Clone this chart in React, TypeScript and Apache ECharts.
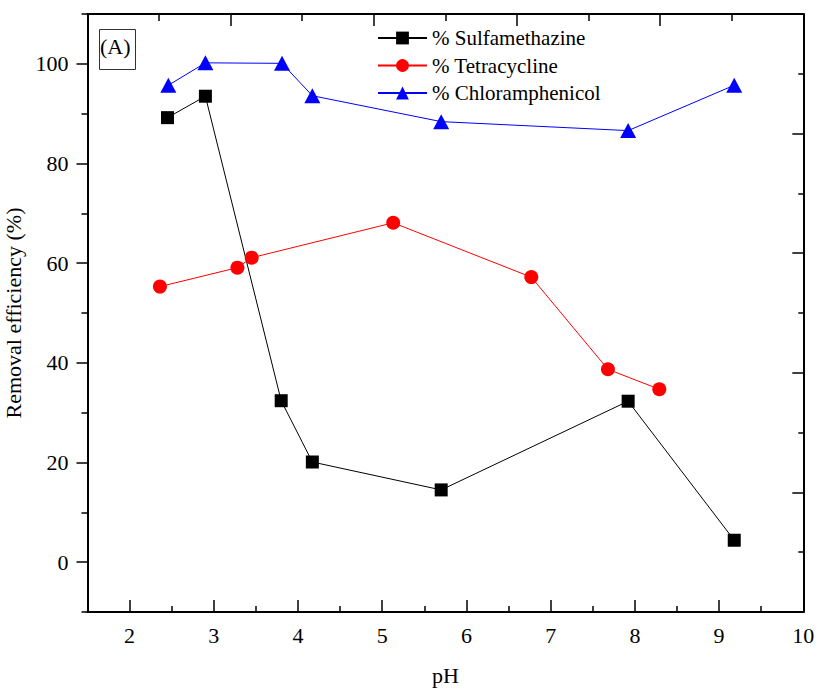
import React, { useEffect, useRef } from "react";
import * as echarts from "echarts";

const phSulfa = [2.45, 2.9, 3.8, 4.17, 5.7, 7.92, 9.18];
const sulfamethazine = [89.2, 93.5, 32.4, 20.1, 14.5, 32.3, 4.4];

const phTetra = [2.36, 3.28, 3.45, 5.13, 6.77, 7.68, 8.29];
const tetracycline = [55.3, 59.1, 61.1, 68.1, 57.2, 38.7, 34.7];

const phChloro = [2.46, 2.9, 3.81, 4.17, 5.7, 7.92, 9.18];
const chloramphenicol = [95.7, 100.2, 100.1, 93.6, 88.4, 86.6, 95.7];

const xMajorTicks = [2, 3, 4, 5, 6, 7, 8, 9, 10];
const xMinorTicks = [2.5, 3.5, 4.5, 5.5, 6.5, 7.5, 8.5, 9.5];
const yMajorTicks = [0, 20, 40, 60, 80, 100];
const yMinorTicks = [-10, 10, 30, 50, 70, 90, 110];

const FONT = "Liberation Serif";

const zip = (xs: number[], ys: number[]) => xs.map((x, i) => [x, ys[i]]);

export default function App() {
  const ref = useRef<HTMLDivElement>(null);
  useEffect(() => {
    if (!ref.current) return;
    const chart = echarts.init(ref.current, null, { renderer: "svg" });
    const axisLine = { show: true, onZero: false, lineStyle: { color: "#000", width: 2 } };
    const noLine = { show: false, onZero: false };
    chart.setOption({
      animation: false,
      backgroundColor: "#fff",
      textStyle: { fontFamily: FONT },
      grid: {
        left: 87.5,
        right: 14.7,
        top: 14,
        bottom: 76,
        containLabel: false,
        outerBoundsMode: "none",
      },
      legend: {
        orient: "vertical",
        left: 377,
        top: 27,
        padding: 0,
        itemWidth: 49,
        itemHeight: 16,
        itemGap: 5.5,
        data: ["% Sulfamethazine", "% Tetracycline", "% Chloramphenicol"],
        textStyle: { fontFamily: FONT, fontSize: 21, color: "#000", lineHeight: 22 },
      },
      xAxis: [
        {
          type: "value",
          position: "bottom",
          min: 1.5,
          max: 10,
          interval: 0.5,
          axisLine,
          splitLine: { show: false },
          axisTick: { show: true, inside: true, length: 12, customValues: xMajorTicks, lineStyle: { color: "#000", width: 1.5 } },
          axisLabel: { customValues: xMajorTicks, fontSize: 22, fontFamily: FONT, color: "#000", margin: 12 },
          name: "pH",
          nameLocation: "middle",
          nameGap: 52,
          nameTextStyle: { fontSize: 22, fontFamily: FONT, color: "#000" },
        },
        {
          type: "value",
          position: "bottom",
          min: 1.5,
          max: 10,
          interval: 0.5,
          axisLine: noLine,
          splitLine: { show: false },
          axisTick: { show: true, inside: true, length: 6, customValues: xMinorTicks, lineStyle: { color: "#000", width: 1.5 } },
          axisLabel: { show: false },
        },
        {
          type: "value",
          position: "top",
          min: 0,
          max: 10,
          interval: 2,
          axisLine,
          splitLine: { show: false },
          axisTick: { show: true, inside: true, length: 12, lineStyle: { color: "#000", width: 1.5 } },
          minorTick: { show: true, splitNumber: 2, length: 7, lineStyle: { color: "#000", width: 1.5 } },
          minorSplitLine: { show: false },
          axisLabel: { show: false },
        },
      ],
      yAxis: [
        {
          type: "value",
          position: "left",
          min: -10,
          max: 110,
          interval: 10,
          axisLine,
          splitLine: { show: false },
          axisTick: { show: true, inside: false, length: 11, customValues: yMajorTicks, lineStyle: { color: "#000", width: 1.5 } },
          axisLabel: { customValues: yMajorTicks, fontSize: 22, fontFamily: FONT, color: "#000", margin: 19 },
          name: "Removal efficiency (%)",
          nameLocation: "middle",
          nameGap: 54,
          nameTextStyle: { fontSize: 22, fontFamily: FONT, color: "#000" },
        },
        {
          type: "value",
          position: "left",
          min: -10,
          max: 110,
          interval: 10,
          axisLine: noLine,
          splitLine: { show: false },
          axisTick: { show: true, inside: false, length: 6, customValues: yMinorTicks, lineStyle: { color: "#000", width: 1.5 } },
          axisLabel: { show: false },
        },
        {
          type: "value",
          position: "right",
          min: 0,
          max: 10,
          interval: 2,
          axisLine,
          splitLine: { show: false },
          axisTick: { show: true, inside: true, length: 11, lineStyle: { color: "#000", width: 1.5 } },
          minorTick: { show: true, splitNumber: 2, length: 5, lineStyle: { color: "#000", width: 1.5 } },
          minorSplitLine: { show: false },
          axisLabel: { show: false },
        },
      ],
      graphic: [
        {
          type: "rect",
          left: 97,
          top: 27,
          shape: { width: 36, height: 40 },
          style: { fill: "none", stroke: "#333", lineWidth: 1 },
        },
        {
          type: "text",
          left: 100,
          top: 35,
          style: { text: "(A)", fontSize: 22, fontFamily: FONT, fill: "#000" },
        },
      ],
      series: [
        {
          name: "% Tetracycline",
          type: "line",
          xAxisIndex: 0,
          yAxisIndex: 0,
          data: zip(phTetra, tetracycline),
          symbol: "circle",
          symbolSize: 14,
          itemStyle: { color: "#ff0000" },
          lineStyle: { color: "#ff0000", width: 1 },
        },
        {
          name: "% Chloramphenicol",
          type: "line",
          xAxisIndex: 0,
          yAxisIndex: 0,
          data: zip(phChloro, chloramphenicol),
          symbol: "triangle",
          symbolSize: [16, 15],
          itemStyle: { color: "#0000ff" },
          lineStyle: { color: "#0000ff", width: 1 },
        },
        {
          name: "% Sulfamethazine",
          type: "line",
          xAxisIndex: 0,
          yAxisIndex: 0,
          data: zip(phSulfa, sulfamethazine),
          symbol: "rect",
          symbolSize: 13,
          itemStyle: { color: "#000000" },
          lineStyle: { color: "#000000", width: 1 },
        },
      ],
    });
    return () => chart.dispose();
  }, []);
  return (
    <div
      ref={ref}
      style={{ position: "fixed", left: 0, top: 0, width: 818, height: 688, background: "#fff" }}
    />
  );
}
